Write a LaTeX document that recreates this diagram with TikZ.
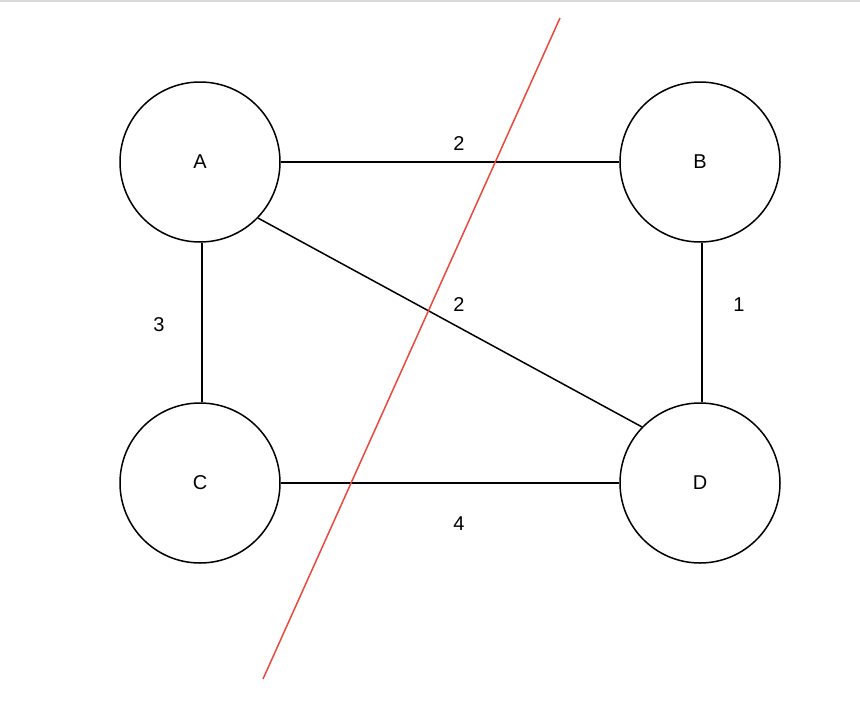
\documentclass[tikz,border=0pt]{standalone}
\usepackage{fontspec}
\setmainfont{Liberation Sans}
\begin{document}
\begin{tikzpicture}[x=1pt,y=-1pt,
  vert/.style={circle,draw,line width=1.5pt,minimum size=160pt,inner sep=0pt,font=\fontsize{20}{24}\selectfont},
  edge/.style={line width=1.5pt},
  wlabel/.style={font=\fontsize{20}{24}\selectfont},
  cut/.style={line width=1.5pt,draw={rgb,255:red,235;green,72;blue,60}}]
\useasboundingbox (0,0) rectangle (860,710);
\fill[gray!30] (0,0) rectangle (860,2);
\node[vert] (A) at (200,162) {A};
\node[vert] (B) at (700,162) {B};
\node[vert] (C) at (200,483) {C};
\node[vert] (D) at (700,483) {D};
\draw[edge] (A.east) -- (B.west);
\draw[edge] ([xshift=2pt]A.south) -- ([xshift=2pt]C.north);
\draw[edge] ([xshift=2pt]B.south) -- ([xshift=2pt]D.north);
\draw[edge] (C.east) -- (D.west);
\draw[edge] (A.-44) -- (D.136);
\node[wlabel] (w1) at (459,144) {2};
\node[wlabel] (w2) at (459,305) {2};
\node[wlabel] (w3) at (739,305) {1};
\node[wlabel] (w4) at (159,325) {3};
\node[wlabel] (w5) at (459,524) {4};
\coordinate (c1) at (560,18);
\coordinate (c2) at (263,679);
\draw[cut] (c1) -- (c2);
\end{tikzpicture}
\end{document}
